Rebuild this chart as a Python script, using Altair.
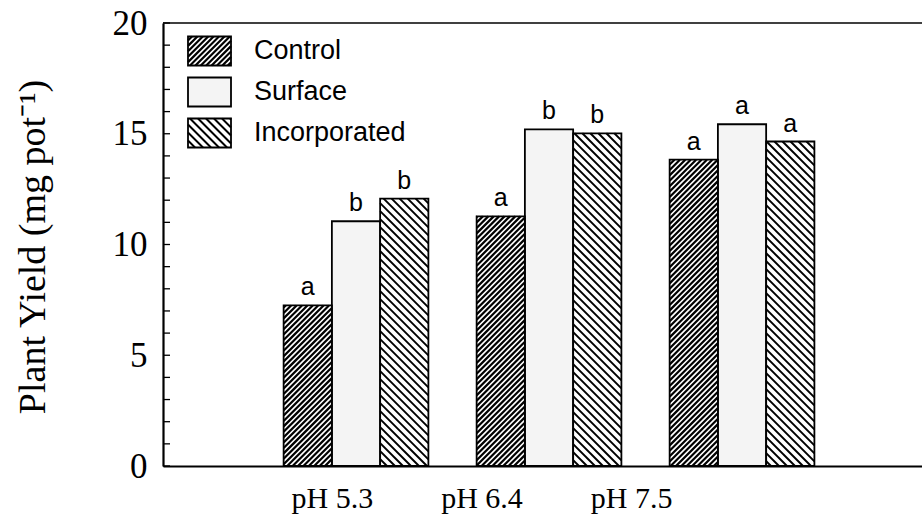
import math
import altair as alt
import pandas as pd

# ---------------- data ----------------
groups = ["pH 5.3", "pH 6.4", "pH 7.5"]
treatments = ["Control", "Surface", "Incorporated"]
control = [7.25, 11.27, 13.83]
surface = [11.05, 15.20, 15.43]
incorporated = [12.07, 15.02, 14.65]
letters_control = ["a", "a", "a"]
letters_surface = ["b", "b", "a"]
letters_incorporated = ["b", "b", "a"]
y_ticks = list(range(0, 21))
y_labels = [0, 5, 10, 15, 20]

# ---------------- layout ----------------
W, H = 759, 443
XMAX = 15.73          # x scale in bar-width units
YMAX = 20
sx = W / XMAX
sy = H / YMAX
GROUP_START = 2.5
GROUP_STEP = 4.0
LABEL_POS = [3.5, 6.6, 9.7]   # where the category labels sit in the original

hatch_style = {
    "Control": dict(period=5.4, width=2.2, direction="/"),
    "Incorporated": dict(period=8.0, width=2.0, direction="\\"),
}
fills = {"Control": "#ffffff", "Surface": "#f4f4f4", "Incorporated": "#ffffff"}


def hatch(X0, X1, Yb, Yt, period, direction):
    """Diagonal segments clipped to rect [X0,X1]x[Yb,Yt] (Y up)."""
    segs = []
    w = X1 - X0
    h = Yt - Yb
    if direction == "/":
        k0 = math.floor((X0 - h) / period) - 1
        k1 = math.ceil(X1 / period) + 1
        for k in range(k0, k1 + 1):
            c = k * period - X0
            lo = max(0.0, -c)
            hi = min(h, w - c)
            if hi - lo > 0.2:
                segs.append((X0 + c + lo, Yb + lo, X0 + c + hi, Yb + hi))
    else:
        k0 = math.floor(X0 / period) - 1
        k1 = math.ceil((X1 + h) / period) + 1
        for k in range(k0, k1 + 1):
            c = X1 - k * period
            lo = max(0.0, -c)
            hi = min(h, w - c)
            if hi - lo > 0.2:
                segs.append((X1 - c - lo, Yb + lo, X1 - c - hi, Yb + hi))
    return segs


series = {"Control": control, "Surface": surface, "Incorporated": incorporated}
letters = {"Control": letters_control, "Surface": letters_surface,
           "Incorporated": letters_incorporated}

bar_rows, hatch_rows = [], []
for gi, g in enumerate(groups):
    for ti, t in enumerate(treatments):
        x0 = GROUP_START + GROUP_STEP * gi + ti
        v = series[t][gi]
        bar_rows.append(dict(group=g, treatment=t, x0=x0, x1=x0 + 1,
                             xc=x0 + 0.5, value=v, base=0.0,
                             letter=letters[t][gi], fill=fills[t]))
        if t in hatch_style:
            st = hatch_style[t]
            for (a, b, c, d) in hatch(x0 * sx, (x0 + 1) * sx, 0, v * sy,
                                      st["period"], st["direction"]):
                hatch_rows.append(dict(treatment=t, x=a / sx, y=b / sy,
                                       x2=c / sx, y2=d / sy))

bars = pd.DataFrame(bar_rows)
hatches = pd.DataFrame(hatch_rows)

xscale = alt.Scale(domain=[0, XMAX], nice=False, zero=False)
yscale = alt.Scale(domain=[0, YMAX], nice=False)

label_expr = ("datum.value < 5 ? '%s' : datum.value < 8 ? '%s' : '%s'"
              % tuple(groups))

x_axis = alt.Axis(values=LABEL_POS, labelExpr=label_expr, title=None,
                  ticks=False, grid=False, domainColor="black",
                  domainWidth=2.2, labelFont="Liberation Serif",
                  labelFontSize=30, labelColor="black", labelPadding=17,
                  labelBaseline="top", labelAlign="center")
y_axis = alt.Axis(values=y_labels, title="Plant Yield (mg pot⁻¹)",
                  ticks=False, grid=False, domainColor="black",
                  domainWidth=2.2, labelFont="Liberation Serif",
                  labelFontSize=35, labelColor="black", labelPadding=16,
                  titleFont="Liberation Serif", titleFontSize=38,
                  titleFontWeight="normal", titleColor="black",
                  titleX=-130, titleY=H / 2 + 2, titleAngle=-90,
                  titleAlign="center", titleBaseline="middle")

base = alt.Chart(bars)

bar_fill = base.mark_bar(strokeWidth=0).encode(
    x=alt.X("x0:Q", scale=xscale, axis=x_axis),
    x2="x1:Q",
    y=alt.Y("value:Q", scale=yscale, axis=y_axis),
    y2="base:Q",
    fill=alt.Fill("fill:N", scale=None),
)

hatch_layers = []
for t, st in hatch_style.items():
    hatch_layers.append(
        alt.Chart(hatches[hatches.treatment == t]).mark_rule(
            color="black", strokeWidth=st["width"]).encode(
            x=alt.X("x:Q", scale=xscale), x2="x2:Q",
            y=alt.Y("y:Q", scale=yscale), y2="y2:Q")
    )

bar_outline = base.mark_bar(fillOpacity=0, stroke="black",
                            strokeWidth=1.8).encode(
    x=alt.X("x0:Q", scale=xscale), x2="x1:Q",
    y=alt.Y("value:Q", scale=yscale), y2="base:Q")

letter_text = base.mark_text(dy=-10, baseline="alphabetic", fontSize=25,
                             font="Liberation Sans", color="black").encode(
    x=alt.X("xc:Q", scale=xscale), y=alt.Y("value:Q", scale=yscale),
    text="letter:N")

ticks = alt.Chart(pd.DataFrame({"t": y_ticks})).mark_rule(
    color="black", strokeWidth=1.3).encode(
    y=alt.Y("t:Q", scale=yscale), x=alt.value(0), x2=alt.value(7))

top_line = alt.Chart(pd.DataFrame({"a": [0]})).mark_rule(
    color="black", strokeWidth=1.5).encode(
    x=alt.value(0), x2=alt.value(W), y=alt.value(0))

# ---------------- legend (pixel positions) ----------------
LEG_X0, LEG_X1 = 25, 68
LEG_H = 29
LEG_Y = [28, 69, 110]
leg_rows, leg_hatch = [], []
for t, yc in zip(treatments, LEG_Y):
    top, bot = yc - LEG_H / 2, yc + LEG_H / 2
    leg_rows.append(dict(treatment=t, x0=LEG_X0, x1=LEG_X1, y0=top, y1=bot,
                         yc=yc, fill=fills[t], tx=91))
    if t in hatch_style:
        st = hatch_style[t]
        for (a, b, c, d) in hatch(LEG_X0, LEG_X1, 0, LEG_H, st["period"],
                                  st["direction"]):
            leg_hatch.append(dict(treatment=t, x=a, x2=c, y=bot - b,
                                  y2=bot - d, w=st["width"]))
leg = pd.DataFrame(leg_rows)
legh = pd.DataFrame(leg_hatch)

leg_fill = alt.Chart(leg).mark_rect(strokeWidth=0).encode(
    x=alt.X("x0:Q", scale=None), x2="x1:Q",
    y=alt.Y("y0:Q", scale=None), y2="y1:Q",
    fill=alt.Fill("fill:N", scale=None))
leg_hatch_layers = []
for t, st in hatch_style.items():
    leg_hatch_layers.append(
        alt.Chart(legh[legh.treatment == t]).mark_rule(
            color="black", strokeWidth=st["width"]).encode(
            x=alt.X("x:Q", scale=None), x2="x2:Q",
            y=alt.Y("y:Q", scale=None), y2="y2:Q"))
leg_outline = alt.Chart(leg).mark_rect(fillOpacity=0, stroke="black",
                                       strokeWidth=1.8).encode(
    x=alt.X("x0:Q", scale=None), x2="x1:Q",
    y=alt.Y("y0:Q", scale=None), y2="y1:Q")
leg_text = alt.Chart(leg).mark_text(align="left", baseline="middle",
                                    fontSize=27, font="Liberation Sans",
                                    color="black").encode(
    x=alt.X("tx:Q", scale=None), y=alt.Y("yc:Q", scale=None),
    text="treatment:N")

chart = alt.layer(
    bar_fill, *hatch_layers, bar_outline, letter_text, ticks, top_line,
    leg_fill, *leg_hatch_layers, leg_outline, leg_text,
).properties(
    width=W, height=H,
    autosize=alt.AutoSizeParams(type="none"),
    padding={"left": 163, "top": 23, "right": 0, "bottom": 59},
    background="white",
).configure_view(stroke=None)

chart.save("out.html", embed_options={"renderer": "svg", "actions": False})
